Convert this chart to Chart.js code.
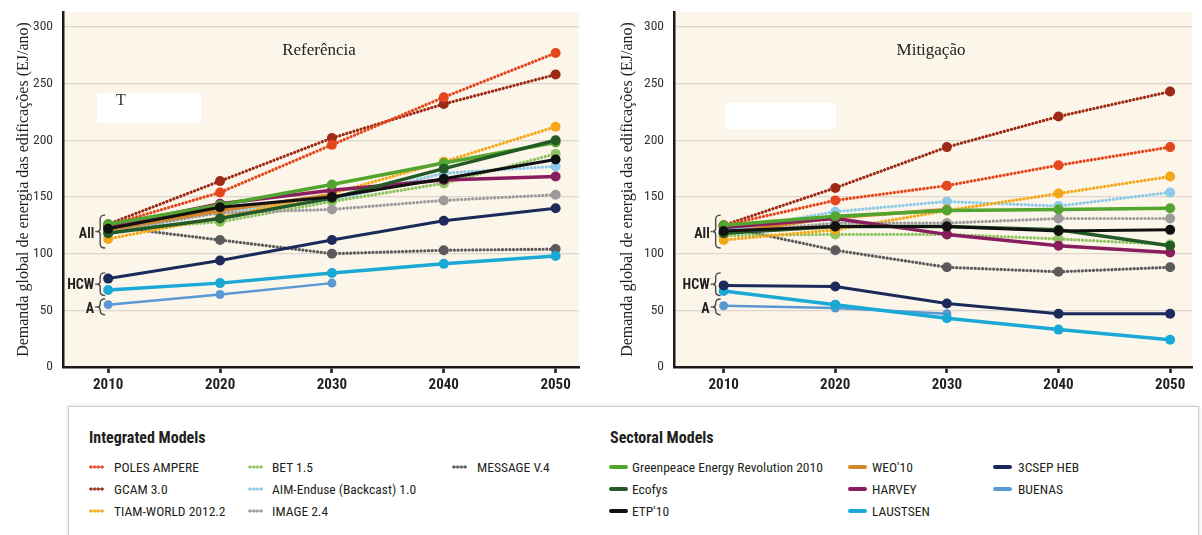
<!DOCTYPE html>
<html>
<head>
<meta charset="utf-8">
<title>Demanda global de energia das edificações</title>
<script src="https://cdn.jsdelivr.net/npm/chart.js@4.4.1/dist/chart.umd.min.js"></script>
<style>
  html, body { margin: 0; padding: 0; background: #ffffff; }
  body { width: 1202px; height: 535px; position: relative; overflow: hidden;
         font-family: "Liberation Sans Narrow", "Roboto Condensed", "DejaVu Sans Condensed", "Liberation Sans", sans-serif; }
  canvas { position: absolute; top: 0; }
  #chartRef { left: 0; }
  #chartMit { left: 604px; }
  #legend { position: absolute; left: 68px; top: 406px; width: 1129px; height: 140px;
            border: 1px solid #cfcfcf; box-shadow: 0 0 3px rgba(0,0,0,0.18); background: #fff; }
  #legend .hdr { position: absolute; font-weight: bold; font-size: 16px; color: #231f20; line-height: 18px; }
  #legend .txt { position: absolute; font-size: 13.5px; color: #231f20; line-height: 16px; white-space: nowrap; }
  #legend .sw { position: absolute; height: 4px; }
  #legend .bar { width: 19px; border-radius: 2px; }
  #legend .dot { width: 15px; background-repeat: repeat-x; background-size: 3.75px 4px; }
</style>
</head>
<body>
<canvas id="chartRef" width="584" height="400"></canvas>
<canvas id="chartMit" width="593" height="400"></canvas>
<div id="legend"></div>

<script>
// ---- data -------------------------------------------------------------
const years = [2010, 2020, 2030, 2040, 2050];
const yTicks = [0, 50, 100, 150, 200, 250, 300];

// Referência (EJ/ano)
const polesRef      = [125, 154, 196, 238, 277];
const gcamRef       = [126, 164, 202, 232, 258];
const tiamRef       = [113, 132, 153, 181, 212];
const betRef        = [121, 128, 146, 162, 188];
const aimRef        = [118, 137, 147, 171, 177];
const imageRef      = [120, 136, 139, 147, 152];
const messageRef    = [124, 112, 100, 103, 104];
const greenpeaceRef = [126, 143, 161, 180, 198];
const ecofysRef     = [118, 131, 149, 175, 200];
const etpRef        = [122, 141, 150, 166, 183];
const weoRef        = [121, 138, 152, null, null];
const harveyRef     = [124, 144, 156, 165, 168];
const laustsenRef   = [68, 74, 83, 91, 98];
const csepRef       = [78, 94, 112, 129, 140];
const buenasRef     = [55, 64, 74, null, null];

// Mitigação (EJ/ano)
const polesMit      = [125, 147, 160, 178, 194];
const gcamMit       = [125, 158, 194, 221, 243];
const tiamMit       = [112, 121, 138, 153, 168];
const betMit        = [116, 117, 117, 113, 108];
const aimMit        = [120, 137, 146, 142, 154];
const imageMit      = [118, 127, 127, 131, 131];
const messageMit    = [124, 103, 88, 84, 88];
const greenpeaceMit = [125, 133, 138, 139, 140];
const ecofysMit     = [118, 124, 124, 121, 107];
const etpMit        = [120, 124, 124, 120, 121];
const weoMit        = [118, 132, 139, null, null];
const harveyMit     = [123, 131, 117, 107, 101];
const laustsenMit   = [67, 55, 43, 33, 24];
const csepMit       = [72, 71, 56, 47, 47];
const buenasMit     = [54, 52, 47, null, null];

const integratedModels = ['POLES AMPERE', 'GCAM 3.0', 'TIAM-WORLD 2012.2', 'BET 1.5',
                          'AIM-Enduse (Backcast) 1.0', 'IMAGE 2.4', 'MESSAGE V.4'];
const sectoralModels = ['Greenpeace Energy Revolution 2010', 'Ecofys', "ETP'10", "WEO'10",
                        'HARVEY', 'LAUSTSEN', '3CSEP HEB', 'BUENAS'];

const referencia = {
  'POLES AMPERE': polesRef, 'GCAM 3.0': gcamRef, 'TIAM-WORLD 2012.2': tiamRef, 'BET 1.5': betRef,
  'AIM-Enduse (Backcast) 1.0': aimRef, 'IMAGE 2.4': imageRef, 'MESSAGE V.4': messageRef,
  'Greenpeace Energy Revolution 2010': greenpeaceRef, 'Ecofys': ecofysRef, "ETP'10": etpRef,
  "WEO'10": weoRef, 'HARVEY': harveyRef, 'LAUSTSEN': laustsenRef, '3CSEP HEB': csepRef, 'BUENAS': buenasRef
};
const mitigacao = {
  'POLES AMPERE': polesMit, 'GCAM 3.0': gcamMit, 'TIAM-WORLD 2012.2': tiamMit, 'BET 1.5': betMit,
  'AIM-Enduse (Backcast) 1.0': aimMit, 'IMAGE 2.4': imageMit, 'MESSAGE V.4': messageMit,
  'Greenpeace Energy Revolution 2010': greenpeaceMit, 'Ecofys': ecofysMit, "ETP'10": etpMit,
  "WEO'10": weoMit, 'HARVEY': harveyMit, 'LAUSTSEN': laustsenMit, '3CSEP HEB': csepMit, 'BUENAS': buenasMit
};

// model groups marked with braces next to the 2010 points
const braceGroups = [
  { label: 'All', from: 105, to: 134, at: 118 },
  { label: 'HCW', from: 63,  to: 83,  at: 73 },
  { label: 'A',   from: 46,  to: 60,  at: 52 }
];

// ---- styles -----------------------------------------------------------
const styles = {
  'POLES AMPERE':                      { color: '#e5471c', width: 3.2 },
  'GCAM 3.0':                          { color: '#9c2a14', width: 3.2 },
  'TIAM-WORLD 2012.2':                 { color: '#f5a816', width: 3.2 },
  'BET 1.5':                           { color: '#8fc360', width: 3.2 },
  'AIM-Enduse (Backcast) 1.0':         { color: '#8ccaea', width: 3.2 },
  'IMAGE 2.4':                         { color: '#9b9b9b', width: 3.2 },
  'MESSAGE V.4':                       { color: '#5b5b5b', width: 3.2 },
  'Greenpeace Energy Revolution 2010': { color: '#52a52e', width: 3.5 },
  'Ecofys':                            { color: '#245a25', width: 3.5 },
  "ETP'10":                            { color: '#111111', width: 3 },
  "WEO'10":                            { color: '#d4862a', width: 3.5 },
  'HARVEY':                            { color: '#8a1d5f', width: 3.5 },
  'LAUSTSEN':                          { color: '#1aa9d7', width: 3.5 },
  '3CSEP HEB':                         { color: '#1b2a5b', width: 3 },
  'BUENAS':                            { color: '#5a98d3', width: 2.5 }
};
const SANS = '"Liberation Sans Narrow", "Roboto Condensed", "DejaVu Sans Condensed", "Liberation Sans", sans-serif';
const SERIF = '"Liberation Serif", "DejaVu Serif", serif';

// first entries are drawn on top
const drawOrder = ['3CSEP HEB', 'LAUSTSEN', 'BUENAS', "ETP'10", 'Ecofys', 'Greenpeace Energy Revolution 2010',
  'HARVEY', "WEO'10", 'IMAGE 2.4', 'POLES AMPERE', 'GCAM 3.0', 'TIAM-WORLD 2012.2', 'BET 1.5',
  'AIM-Enduse (Backcast) 1.0', 'MESSAGE V.4'];

function buildDatasets(values) {
  return drawOrder.map(name => {
    const st = styles[name];
    const dotted = integratedModels.includes(name);
    const pts = [];
    years.forEach((yr, i) => { if (values[name][i] !== null) pts.push({ x: yr, y: values[name][i] }); });
    return {
      label: name,
      data: pts,
      borderColor: st.color,
      backgroundColor: st.color,
      borderWidth: st.width,
      borderDash: dotted ? [0.1, 3.6] : [],
      borderCapStyle: dotted ? 'round' : 'butt',
      borderJoinStyle: 'round',
      pointRadius: name === 'BUENAS' ? 4.5 : 5,
      pointBorderWidth: 0,
      pointBackgroundColor: st.color,
      tension: 0
    };
  });
}

// ---- plugins ----------------------------------------------------------
const panelBg = {
  id: 'panelBg',
  beforeDraw(chart) {
    const { ctx, chartArea: a } = chart;
    ctx.save();
    ctx.fillStyle = '#fcf5e9';
    ctx.fillRect(a.left, a.top, a.right - a.left, a.bottom - a.top);
    ctx.restore();
  }
};

function drawBrace(ctx, x, y1, y2) {
  const mid = (y1 + y2) / 2, c = 4;
  ctx.beginPath();
  ctx.moveTo(x + 5, y1);
  ctx.quadraticCurveTo(x, y1, x, y1 + c);
  ctx.lineTo(x, mid - 3);
  ctx.quadraticCurveTo(x, mid, x - 3, mid);
  ctx.quadraticCurveTo(x, mid, x, mid + 3);
  ctx.lineTo(x, y2 - c);
  ctx.quadraticCurveTo(x, y2, x + 5, y2);
  ctx.stroke();
  ctx.beginPath();
  ctx.moveTo(x - 3, mid);
  ctx.lineTo(x - 5, mid);
  ctx.stroke();
}

const panelDeco = {
  id: 'panelDeco',
  beforeDatasetsDraw(chart, args, opts) {
    const { ctx, chartArea: a } = chart;
    ctx.save();
    ctx.fillStyle = '#ffffff';
    ctx.fillRect(a.left + opts.box[0], a.top + opts.box[1], opts.box[2], opts.box[3]);
    if (opts.boxText) {
      ctx.font = '16px ' + SERIF;
      ctx.fillStyle = '#333';
      ctx.textAlign = 'left';
      ctx.textBaseline = 'middle';
      ctx.fillText(opts.boxText, a.left + opts.box[0] + 19, a.top + opts.box[1] + 8);
    }
    ctx.font = '17px ' + SERIF;
    ctx.fillStyle = '#222';
    ctx.textAlign = 'center';
    ctx.textBaseline = 'middle';
    ctx.fillText(opts.title, (a.left + a.right) / 2 - 2, a.top + 39);

    const xs = chart.scales.x, ys = chart.scales.y;
    const px = xs.getPixelForValue(years[0]);
    ctx.strokeStyle = '#4a4a4a';
    ctx.lineWidth = 1.4;
    ctx.fillStyle = '#231f20';
    ctx.font = 'bold 14px ' + SANS;
    ctx.textAlign = 'right';
    braceGroups.forEach(g => {
      drawBrace(ctx, px - 8, ys.getPixelForValue(g.to), ys.getPixelForValue(g.from));
      ctx.fillText(g.label, px - 14, ys.getPixelForValue(g.at) + 1);
    });
    ctx.restore();
  }
};

// ---- charts -----------------------------------------------------------
function makeChart(id, values, p) {
  return new Chart(document.getElementById(id), {
    type: 'line',
    data: { datasets: buildDatasets(values) },
    options: {
      responsive: false,
      animation: false,
      events: [],
      layout: { padding: { top: 12, right: 2, left: 0, bottom: 0 } },
      plugins: {
        legend: { display: false },
        tooltip: { enabled: false },
        panelDeco: { title: p.title, box: p.box, boxText: p.boxText }
      },
      scales: {
        x: {
          type: 'linear', min: p.xMin, max: p.xMax,
          afterBuildTicks: s => { s.ticks = years.map(v => ({ value: v })); },
          afterFit: s => { s.height = 33; s.paddingLeft = 0; s.paddingRight = 0; },
          grid: { drawOnChartArea: false, drawTicks: true, tickLength: 6, tickWidth: 2.5, tickColor: '#1a1a1a' },
          border: { display: true, color: '#1a1a1a', width: 2.5 },
          ticks: { autoSkip: false, maxRotation: 0, padding: 3, color: '#231f20',
                   font: { family: SANS, size: 15, weight: 'bold' }, callback: v => String(v) }
        },
        y: {
          min: 0, max: 313.2,
          afterBuildTicks: s => { s.ticks = yTicks.map(v => ({ value: v })); },
          afterFit: s => { s.width = p.yWidth; s.paddingTop = 0; s.paddingBottom = 0; },
          grid: { color: '#dcd6cc', lineWidth: 1.2, drawTicks: false },
          border: { display: true, color: '#1a1a1a', width: 2.5 },
          ticks: { padding: 10, color: '#333', font: { family: SANS, size: 13.5 } },
          title: { display: true, text: 'Demanda global de energia das edificações (EJ/ano)',
                   color: '#231f20', font: { family: SERIF, size: 16 }, padding: { top: 14, bottom: 0 } }
        }
      }
    },
    plugins: [panelBg, panelDeco]
  });
}

makeChart('chartRef', referencia, {
  title: 'Referência', box: [34, 81, 104, 30], boxText: 'T',
  xMin: 2005.96, xMax: 2052.09, yWidth: 63
});
makeChart('chartMit', mitigacao, {
  title: 'Mitigação', box: [51, 91, 111, 26], boxText: '',
  xMin: 2005.55, xMax: 2051.96, yWidth: 70
});

// ---- legend -----------------------------------------------------------
const legend = document.getElementById('legend');
function addHeader(text, left) {
  const d = document.createElement('div');
  d.className = 'hdr'; d.textContent = text;
  d.style.left = left + 'px'; d.style.top = '22px';
  legend.appendChild(d);
}
function addItem(name, swLeft, txtLeft, row, dotted) {
  const cy = 60 + row * 22;
  const sw = document.createElement('div');
  const c = styles[name].color;
  if (dotted) {
    sw.className = 'sw dot';
    sw.style.backgroundImage = 'radial-gradient(circle, ' + c + ' 1.3px, rgba(255,255,255,0) 1.9px)';
  } else {
    sw.className = 'sw bar';
    sw.style.background = c;
  }
  sw.style.left = swLeft + 'px'; sw.style.top = (cy - 2) + 'px';
  legend.appendChild(sw);
  const t = document.createElement('div');
  t.className = 'txt'; t.textContent = name;
  t.style.left = txtLeft + 'px'; t.style.top = (cy - 8) + 'px';
  legend.appendChild(t);
}
addHeader('Integrated Models', 20);
addHeader('Sectoral Models', 541);
const intCols = [[20, 45], [179, 203], [383, 408]];
const secCols = [[540, 563], [779, 803], [924, 949]];
integratedModels.forEach((n, i) => addItem(n, intCols[Math.floor(i / 3)][0], intCols[Math.floor(i / 3)][1], i % 3, true));
sectoralModels.forEach((n, i) => addItem(n, secCols[Math.floor(i / 3)][0], secCols[Math.floor(i / 3)][1], i % 3, false));
</script>
</body>
</html>
